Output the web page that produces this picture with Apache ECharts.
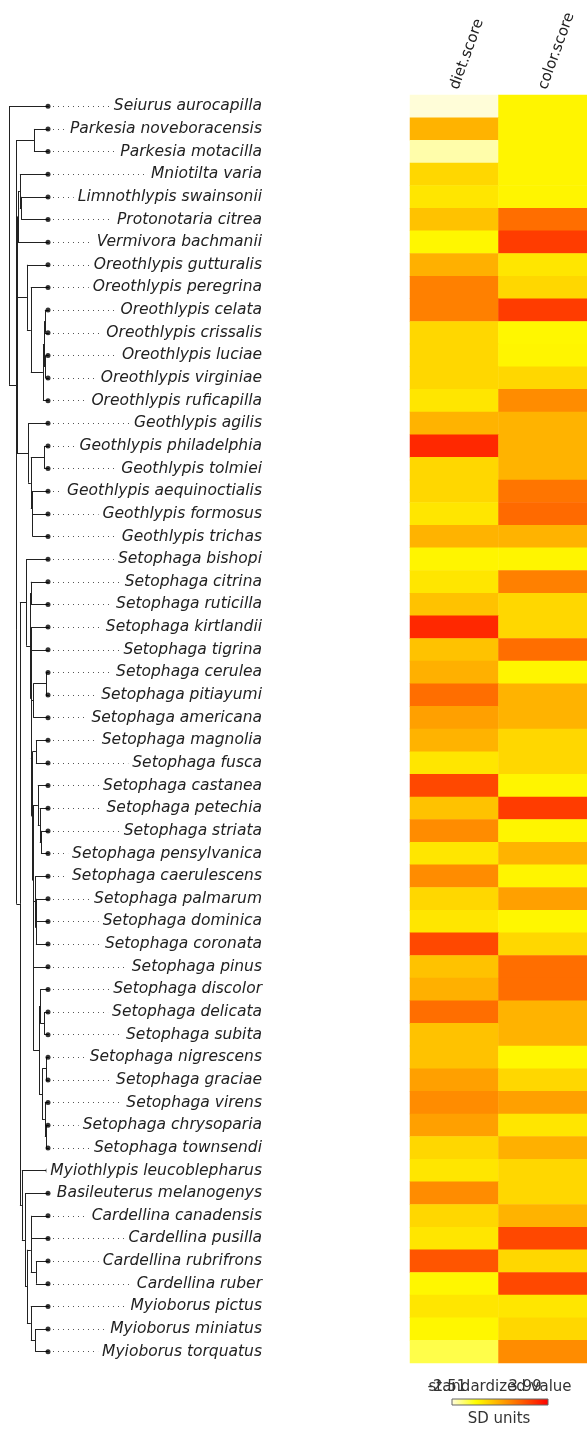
<!DOCTYPE html>
<html><head><meta charset="utf-8">
<script src="https://cdn.jsdelivr.net/npm/echarts@6/dist/echarts.min.js"></script>
<style>html,body{margin:0;padding:0;background:#fff}#c{width:587px;height:1429px}</style>
</head><body><div id="c"></div>
<script>
const species = [
 'Seiurus aurocapilla','Parkesia noveboracensis','Parkesia motacilla','Mniotilta varia',
 'Limnothlypis swainsonii','Protonotaria citrea','Vermivora bachmanii','Oreothlypis gutturalis',
 'Oreothlypis peregrina','Oreothlypis celata','Oreothlypis crissalis','Oreothlypis luciae',
 'Oreothlypis virginiae','Oreothlypis ruficapilla','Geothlypis agilis','Geothlypis philadelphia',
 'Geothlypis tolmiei','Geothlypis aequinoctialis','Geothlypis formosus','Geothlypis trichas',
 'Setophaga bishopi','Setophaga citrina','Setophaga ruticilla','Setophaga kirtlandii',
 'Setophaga tigrina','Setophaga cerulea','Setophaga pitiayumi','Setophaga americana',
 'Setophaga magnolia','Setophaga fusca','Setophaga castanea','Setophaga petechia',
 'Setophaga striata','Setophaga pensylvanica','Setophaga caerulescens','Setophaga palmarum',
 'Setophaga dominica','Setophaga coronata','Setophaga pinus','Setophaga discolor',
 'Setophaga delicata','Setophaga subita','Setophaga nigrescens','Setophaga graciae',
 'Setophaga virens','Setophaga chrysoparia','Setophaga townsendi','Myiothlypis leucoblepharus',
 'Basileuterus melanogenys','Cardellina canadensis','Cardellina pusilla','Cardellina rubrifrons',
 'Cardellina ruber','Myioborus pictus','Myioborus miniatus','Myioborus torquatus'
];
const dietScore = [
 -2.45, 0.57, -2.12, -0.12, -0.41, 0.28, -0.73, 0.63, 1.54, 1.54,
 -0.12, -0.12, -0.12, -0.41, 0.57, 3.23, -0.12, -0.12, -0.41, 0.57,
 -0.69, -0.41, 0.28, 3.23, 0.28, 0.63, 1.89, 0.93, 0.57, -0.41,
 2.61, 0.28, 1.31, -0.41, 1.31, -0.12, -0.41, 2.61, 0.28, 0.63,
 1.89, 0.28, 0.28, 0.93, 1.31, 0.93, -0.12, -0.41, 1.31, -0.12,
 -0.41, 2.37, -0.73, -0.41, -0.73, -1.42
];
const colorScore = [
 -0.69, -0.69, -0.69, -0.69, -0.69, 1.89, 2.84, -0.41, -0.12, 2.84,
 -0.73, -0.69, -0.12, 1.31, 0.57, 0.57, 0.57, 1.75, 1.96, 0.57,
 -0.69, 1.54, -0.12, -0.12, 1.89, -0.69, 0.57, 0.57, -0.12, -0.12,
 -0.69, 2.84, -0.69, 0.57, -0.69, 0.93, -0.73, -0.12, 1.89, 1.89,
 0.57, 0.57, -0.73, -0.12, 0.93, -0.41, 0.63, -0.12, -0.12, 0.57,
 2.61, -0.12, 2.61, -0.41, -0.12, 1.31
];
const traitNames = ['diet.score', 'color.score'];
const legendRange = [-2.51, 3.99];
const legendTitle = 'standardized value';
const legendUnits = 'SD units';

// tree clades: [node age (root = 1, tips = 0), children...]; leaves are row indices
const parkesia = [0.36, 1, 2];
const mniotiltaGrp = [0.77, [0.72, 3, [0.69, 4, 5]], 6];
const oreothlypis = [0.54, 7, [0.44, 8, [0.13, [0.10, [0.08, 9, 10], [0.06, 11, 12]], 13]]];
const geothlypis = [0.51, 14, [0.44, [0.10, 15, 16], [0.41, 17, [0.40, 18, 19]]]];
const setoLower = [0.38, 38, [0.23, [0.20, 39, [0.10, 40, 41]], [0.15, [0.05, 42, 43], [0.08, 44, [0.05, 45, 46]]]]];
const seto7 = [0.385, [0.33, 34, [0.31, [0.30, 35, 36], 37]], setoLower];
const seto6 = [0.39, [0.26, 30, [0.21, 31, [0.18, 32, 33]]], seto7];
const seto5 = [0.40, [0.31, 28, 29], seto6];
const seto4 = [0.42, [0.38, [0.05, 25, 26], 27], seto5];
const seto3 = [0.44, [0.43, 23, 24], seto4];
const seto2 = [0.46, [0.44, 21, 22], seto3];
const setophaga = [0.56, 20, seto2];
const basileuterini = [0.67, 47, [0.59, 48, [0.54, [0.44, [0.43, 49, 50], [0.31, 51, 52]], [0.44, 53, [0.33, 54, 55]]]]];
const tree = [1.00, 0, [0.82, parkesia, [0.81, [0.795, [0.78, mniotiltaGrp, oreothlypis], geothlypis], [0.72, setophaga, basileuterini]]]];

const heatColors = ['#FFFDE0', '#FFFF00', '#FFAA00', '#FF5500', '#FF0000'];

const segs = [];
function layout(node) {
  if (typeof node === 'number') return {age: 0, y: node};
  const age = node[0];
  const kids = node.slice(1).map(layout);
  const y0 = kids[0].y, y1 = kids[kids.length - 1].y;
  kids.forEach(k => segs.push({coords: [[age, k.y], [k.age, k.y]]}));
  segs.push({coords: [[age, y0], [age, y1]]});
  return {age: age, y: (y0 + y1) / 2};
}
layout(tree);

const n = species.length;
const TOP = 95, H = 1268;
const heatData = [];
species.forEach((s, i) => { heatData.push([0, i, dietScore[i]]); heatData.push([1, i, colorScore[i]]); });

const chart = echarts.init(document.getElementById('c'), null, {renderer: 'canvas'});
chart.setOption({
  backgroundColor: '#fff',
  animation: false,
  grid: [
    {left: 9, width: 39, top: TOP, height: H},
    {left: 48, width: 214, top: TOP, height: H},
    {left: 410, width: 177, top: TOP, height: H}
  ],
  xAxis: [
    {gridIndex: 0, type: 'value', min: 0, max: 1, inverse: true, show: false},
    {gridIndex: 1, type: 'value', min: 0, max: 1, show: false},
    {gridIndex: 2, type: 'category', data: traitNames, position: 'top',
     axisLine: {show: false}, axisTick: {show: false},
     axisLabel: {rotate: -70, margin: 6, fontFamily: 'DejaVu Sans', fontStyle: 'normal', fontSize: 15, color: '#222'}}
  ],
  yAxis: [
    {gridIndex: 0, type: 'value', min: -0.5, max: n - 0.5, inverse: true, show: false},
    {gridIndex: 1, type: 'category', data: species, inverse: true, position: 'right', z: 10,
     axisLine: {show: false}, axisTick: {show: false}, splitLine: {show: false},
     axisLabel: {inside: true, margin: 0, fontFamily: 'DejaVu Sans', fontStyle: 'italic',
       fontSize: 15.5, color: '#222', backgroundColor: '#fff', padding: [0, 0, 0, 4]}},
    {gridIndex: 2, type: 'category', data: species, inverse: true, show: false}
  ],
  visualMap: {type: 'continuous', show: false, min: legendRange[0], max: legendRange[1],
    seriesIndex: 3, inRange: {color: heatColors}},
  series: [
    {type: 'lines', coordinateSystem: 'cartesian2d', xAxisIndex: 0, yAxisIndex: 0,
     data: segs, silent: true, lineStyle: {color: '#222', width: 1, opacity: 1}},
    {type: 'scatter', xAxisIndex: 0, yAxisIndex: 0, data: species.map((s, i) => [0, i]),
     symbolSize: 5, itemStyle: {color: '#000'}, silent: true, z: 4},
    {type: 'lines', coordinateSystem: 'cartesian2d', xAxisIndex: 1, yAxisIndex: 1,
     data: species.map((s, i) => ({coords: [[0, i], [1, i]]})), silent: true,
     lineStyle: {color: '#555', width: 1, type: [1, 4], opacity: 1}},
    {type: 'heatmap', xAxisIndex: 2, yAxisIndex: 2, data: heatData, silent: true}
  ],
  graphic: [
    {type: 'text', x: 500, y: 1387, style: {text: legendTitle, font: '15px "DejaVu Sans"', fill: '#333', align: 'center', verticalAlign: 'middle'}},
    {type: 'text', x: 447, y: 1387, style: {text: legendRange[0].toFixed(2), font: '15px "DejaVu Sans"', fill: '#333', align: 'center', verticalAlign: 'middle'}},
    {type: 'text', x: 525, y: 1387, style: {text: legendRange[1].toFixed(2), font: '15px "DejaVu Sans"', fill: '#333', align: 'center', verticalAlign: 'middle'}},
    {type: 'rect', shape: {x: 452, y: 1399, width: 96, height: 6},
     style: {fill: new echarts.graphic.LinearGradient(0, 0, 1, 0,
       heatColors.map((c, k) => ({offset: k / (heatColors.length - 1), color: c}))),
       stroke: '#666', lineWidth: 1}},
    {type: 'text', x: 499, y: 1419, style: {text: legendUnits, font: '15px "DejaVu Sans"', fill: '#333', align: 'center', verticalAlign: 'middle'}}
  ]
});
</script></body></html>
